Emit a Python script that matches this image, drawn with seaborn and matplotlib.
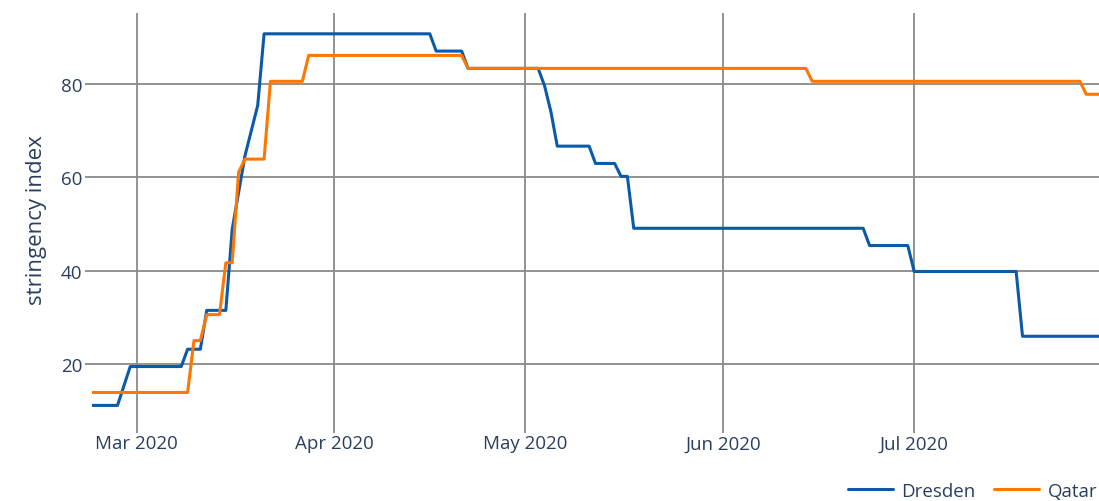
import pandas as pd
import seaborn as sns
import matplotlib.pyplot as plt
import matplotlib.dates as mdates

# ===== 数据（阶梯变化的拐点） =====
dresden_dates = ['2020-02-23', '2020-02-27', '2020-02-28', '2020-02-29', '2020-03-08', '2020-03-09',
                 '2020-03-11', '2020-03-12', '2020-03-15', '2020-03-16', '2020-03-17', '2020-03-18',
                 '2020-03-19', '2020-03-20', '2020-03-21', '2020-04-16', '2020-04-17', '2020-04-21',
                 '2020-04-22', '2020-05-03', '2020-05-04', '2020-05-05', '2020-05-06', '2020-05-11',
                 '2020-05-12', '2020-05-15', '2020-05-16', '2020-05-17', '2020-05-18', '2020-06-23',
                 '2020-06-24', '2020-06-30', '2020-07-01', '2020-07-17', '2020-07-18', '2020-07-30']
dresden_values = [11.11, 11.11, 15.28, 19.44, 19.44, 23.15,
                  23.15, 31.48, 31.48, 48.89, 56.70, 64.60,
                  70.00, 75.40, 90.74, 90.74, 87.04, 87.04,
                  83.33, 83.33, 79.63, 74.07, 66.67, 66.67,
                  62.96, 62.96, 60.19, 60.19, 49.07, 49.07,
                  45.37, 45.37, 39.81, 39.81, 25.93, 25.93]

qatar_dates = ['2020-02-23', '2020-03-09', '2020-03-10', '2020-03-11', '2020-03-12', '2020-03-14',
               '2020-03-15', '2020-03-16', '2020-03-17', '2020-03-18', '2020-03-21', '2020-03-22',
               '2020-03-27', '2020-03-28', '2020-04-21', '2020-04-22', '2020-06-14', '2020-06-15',
               '2020-07-27', '2020-07-28', '2020-07-30']
qatar_values = [13.89, 13.89, 25.00, 25.00, 30.56, 30.56,
                41.67, 41.67, 61.11, 63.89, 63.89, 80.56,
                80.56, 86.11, 86.11, 83.33, 83.33, 80.56,
                80.56, 77.78, 77.78]

df = pd.concat([
    pd.DataFrame({'date': pd.to_datetime(dresden_dates), 'stringency': dresden_values, 'region': 'Dresden'}),
    pd.DataFrame({'date': pd.to_datetime(qatar_dates), 'stringency': qatar_values, 'region': 'Qatar'}),
], ignore_index=True)

# ===== 样式 =====
sns.set_theme(style="white")
plt.rcParams['font.family'] = ['Open Sans', 'DejaVu Sans']
text_color = '#2a3f5f'
grid_color = '#8a8a8a'

fig = plt.figure(figsize=(10.99, 5.02), dpi=100)
ax = fig.add_axes([92 / 1099, 1 - 427 / 502, 1 - 92 / 1099, (427 - 14) / 502])

sns.lineplot(data=df, x='date', y='stringency', hue='region',
             palette={'Dresden': '#0b5aaa', 'Qatar': '#ff7700'},
             linewidth=2.2, ax=ax, legend=True)

ax.set_xlim(pd.Timestamp('2020-02-23'), pd.Timestamp('2020-07-30'))
ax.set_ylim(6.7, 95.2)
ax.set_yticks([20, 40, 60, 80])
ax.xaxis.set_major_locator(mdates.MonthLocator(bymonthday=1))
ax.xaxis.set_major_formatter(mdates.DateFormatter('%b %Y'))

ax.grid(True, color=grid_color, linewidth=1.3)
ax.set_axisbelow(True)
for s in ax.spines.values():
    s.set_visible(False)
ax.tick_params(axis='both', which='major', length=5, width=1.3, color=grid_color,
               labelsize=13.5, labelcolor=text_color, bottom=True, left=True)
ax.tick_params(axis='x', pad=1)
ax.tick_params(axis='y', pad=2)

ax.set_xlabel('')
ax.set_ylabel('stringency index', fontsize=16, color=text_color, labelpad=10)

# 图例移到右下角
handles, labels = ax.get_legend_handles_labels()
ax.get_legend().remove()
for h in handles:
    h.set_linewidth(2.2)
fig.legend(handles, labels, loc='center right', bbox_to_anchor=(1.0, 1 - 492 / 502),
           ncol=2, frameon=False, fontsize=13.5, labelcolor=text_color,
           handlelength=2.4, handletextpad=0.45, columnspacing=1.0,
           borderaxespad=0, borderpad=0.1)

plt.savefig('out.png', dpi=100)
